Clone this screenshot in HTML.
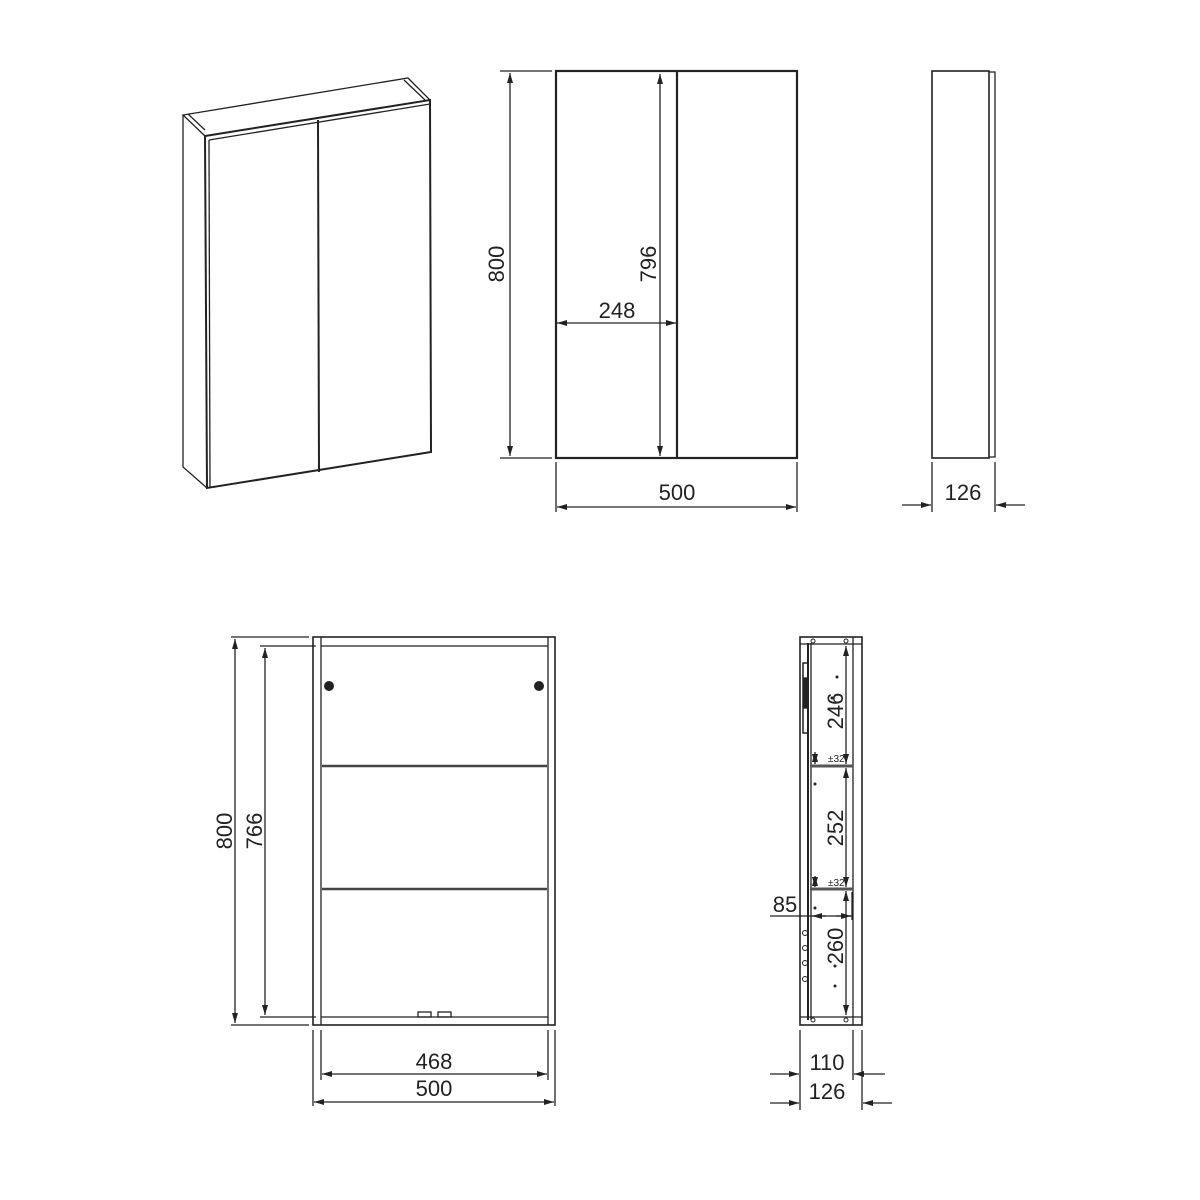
<!DOCTYPE html>
<html><head><meta charset="utf-8"><style>
html,body{margin:0;padding:0;background:#fff;}
svg{display:block;}
text{font-family:"Liberation Sans","DejaVu Sans",sans-serif;fill:#222;}
</style></head><body>
<svg width="1200" height="1200" viewBox="0 0 1200 1200" xmlns="http://www.w3.org/2000/svg">
<defs>
<marker id="a" viewBox="0 0 10 6" refX="10" refY="3" markerWidth="14" markerHeight="6" markerUnits="userSpaceOnUse" orient="auto-start-reverse"><path d="M0,0 L10,3 L0,6 z" fill="#222"/></marker>
</defs>
<g stroke="#222" fill="none" stroke-width="1.3">
<!-- isometric -->
<polygon points="183,115 205,136 430,100 408,78" />
<polyline points="183,115 183,467 207,488"/>
<polygon points="205,136 430,100 431,452 207,488" stroke-width="2"/>
<line x1="209" y1="140" x2="430" y2="104"/>
<line x1="209" y1="140" x2="210" y2="488"/>
<line x1="318" y1="120" x2="319" y2="472" stroke-width="2"/>
<line x1="188" y1="114" x2="205" y2="130"/>
<line x1="404" y1="80" x2="425" y2="100"/>

<!-- front view -->
<rect x="556" y="71" width="241" height="387" stroke-width="2.2"/>
<line x1="677" y1="71" x2="677" y2="458" stroke-width="2.2"/>
<line x1="500" y1="71" x2="552" y2="71"/>
<line x1="500" y1="458" x2="552" y2="458"/>
<line x1="510" y1="73" x2="510" y2="456" marker-start="url(#a)" marker-end="url(#a)"/>
<line x1="660" y1="74" x2="660" y2="456" marker-start="url(#a)" marker-end="url(#a)"/>
<line x1="557" y1="323" x2="676" y2="323" marker-start="url(#a)" marker-end="url(#a)"/>
<line x1="556" y1="462" x2="556" y2="512"/>
<line x1="797" y1="462" x2="797" y2="512"/>
<line x1="557" y1="507" x2="796" y2="507" marker-start="url(#a)" marker-end="url(#a)"/>

<!-- side view -->
<rect x="932" y="71" width="57" height="387" stroke-width="1.6"/>
<polyline points="989,72 995,72 995,457 989,457"/>
<line x1="932" y1="462" x2="932" y2="512"/>
<line x1="995" y1="462" x2="995" y2="512"/>
<line x1="902" y1="505" x2="931" y2="505" marker-end="url(#a)"/>
<line x1="1025" y1="505" x2="996" y2="505" marker-end="url(#a)"/>

<!-- lower front (open) -->
<rect x="313" y="637" width="242" height="388" stroke-width="1.6"/>
<line x1="321" y1="637" x2="321" y2="1025"/>
<line x1="548" y1="637" x2="548" y2="1025"/>
<line x1="321" y1="646" x2="548" y2="646"/>
<line x1="321" y1="1017" x2="548" y2="1017"/>
<line x1="322" y1="766" x2="547" y2="766" stroke-width="2.5" stroke="#444"/>
<line x1="322" y1="889" x2="547" y2="889" stroke-width="2.5" stroke="#444"/>
<rect x="418" y="1012" width="13" height="5"/>
<rect x="438" y="1012" width="13" height="5"/>
<line x1="231" y1="637" x2="309" y2="637"/>
<line x1="231" y1="1025" x2="309" y2="1025"/>
<line x1="260" y1="646" x2="316" y2="646"/>
<line x1="260" y1="1017" x2="316" y2="1017"/>
<line x1="235" y1="639" x2="235" y2="1023" marker-start="url(#a)" marker-end="url(#a)"/>
<line x1="265" y1="648" x2="265" y2="1015" marker-start="url(#a)" marker-end="url(#a)"/>
<line x1="321" y1="1030" x2="321" y2="1080"/>
<line x1="548" y1="1030" x2="548" y2="1080"/>
<line x1="313" y1="1030" x2="313" y2="1106"/>
<line x1="555" y1="1030" x2="555" y2="1106"/>
<line x1="322" y1="1074" x2="547" y2="1074" marker-start="url(#a)" marker-end="url(#a)"/>
<line x1="314" y1="1102" x2="554" y2="1102" marker-start="url(#a)" marker-end="url(#a)"/>

<!-- lower side section -->
<rect x="800" y="637" width="62" height="388" stroke-width="1.6"/>
<line x1="853" y1="637" x2="853" y2="1025"/>
<line x1="800" y1="644" x2="862" y2="644"/>
<line x1="800" y1="1017" x2="862" y2="1017"/>
<line x1="808" y1="643" x2="808" y2="1020" stroke-width="2"/>
<line x1="811" y1="643" x2="811" y2="1020"/>
<rect x="803" y="663" width="5" height="70" stroke-width="1.5"/>
<rect x="804" y="678" width="4" height="30" fill="#222"/>
<line x1="810" y1="766" x2="853" y2="766" stroke-width="3" stroke="#555"/>
<line x1="810" y1="889" x2="853" y2="889" stroke-width="3" stroke="#555"/>
<line x1="846" y1="646" x2="846" y2="764" marker-start="url(#a)" marker-end="url(#a)"/>
<line x1="846" y1="768" x2="846" y2="887" marker-start="url(#a)" marker-end="url(#a)"/>
<line x1="846" y1="891" x2="846" y2="1015" marker-start="url(#a)" marker-end="url(#a)"/>
<line x1="815" y1="752" x2="815" y2="764" marker-start="url(#a)" marker-end="url(#a)"/>
<line x1="815" y1="876" x2="815" y2="887" marker-start="url(#a)" marker-end="url(#a)"/>
<line x1="770" y1="916" x2="852" y2="916"/>
<line x1="852" y1="892" x2="852" y2="920"/>
<line x1="812" y1="916" x2="826" y2="916" marker-start="url(#a)"/>
<line x1="836" y1="916" x2="851" y2="916" marker-end="url(#a)"/>
<line x1="800" y1="1030" x2="800" y2="1110"/>
<line x1="853" y1="1030" x2="853" y2="1080"/>
<line x1="862" y1="1030" x2="862" y2="1110"/>
<line x1="770" y1="1074" x2="799" y2="1074" marker-end="url(#a)"/>
<line x1="885" y1="1074" x2="854" y2="1074" marker-end="url(#a)"/>
<line x1="770" y1="1103" x2="799" y2="1103" marker-end="url(#a)"/>
<line x1="892" y1="1103" x2="863" y2="1103" marker-end="url(#a)"/>
<g stroke-width="1">
<circle cx="813" cy="641" r="2"/><circle cx="846" cy="641" r="2"/>
<circle cx="813" cy="1020" r="2"/><circle cx="846" cy="1020" r="2"/>
<circle cx="805" cy="933" r="2.5"/><circle cx="805" cy="948" r="2.5"/>
<circle cx="805" cy="963" r="2.5"/><circle cx="805" cy="979" r="2.5"/>
</g>
</g>
<g fill="#222">
<circle cx="329" cy="686" r="5"/><circle cx="539" cy="686" r="5"/>
<circle cx="837" cy="677" r="1.5"/><circle cx="832" cy="698" r="1.5"/>
<circle cx="815" cy="784" r="1.5"/><circle cx="815" cy="908" r="1.5"/>
<circle cx="835" cy="966" r="1.5"/><circle cx="835" cy="986" r="1.5"/>
</g>
<g font-size="22">
<text x="617" y="318" text-anchor="middle">248</text>
<text x="677" y="500" text-anchor="middle">500</text>
<text x="963" y="500" text-anchor="middle">126</text>
<text transform="translate(504,264) rotate(-90)" text-anchor="middle">800</text>
<text transform="translate(656,264) rotate(-90)" text-anchor="middle">796</text>
<text transform="translate(232,831) rotate(-90)" text-anchor="middle">800</text>
<text transform="translate(262,831) rotate(-90)" text-anchor="middle">766</text>
<text x="434" y="1069" text-anchor="middle">468</text>
<text x="434" y="1096" text-anchor="middle">500</text>
<text x="785" y="912" text-anchor="middle">85</text>
<text x="827" y="1070" text-anchor="middle">110</text>
<text x="827" y="1099" text-anchor="middle">126</text>
<text transform="translate(843,711) rotate(-90)" text-anchor="middle">246</text>
<text transform="translate(843,828) rotate(-90)" text-anchor="middle">252</text>
<text transform="translate(843,946) rotate(-90)" text-anchor="middle">260</text>
<text x="828" y="762" font-size="10">±32</text>
<text x="828" y="886" font-size="10">±32</text>
</g>
</svg>
</body></html>
